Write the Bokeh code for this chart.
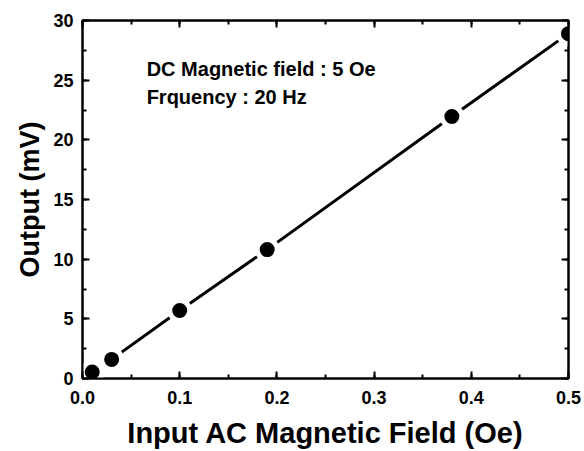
from bokeh.plotting import figure
from bokeh.models import Range1d, LinearAxis, SingleIntervalTicker, NumeralTickFormatter, Label, CustomJSTickFormatter, Title
from bokeh.embed import file_html
from bokeh.resources import INLINE

x_field = [0.002, 0.01, 0.03, 0.1, 0.19, 0.38, 0.5]
y_output = [0.1, 0.55, 1.6, 5.7, 10.8, 21.96, 28.9]
annot_lines = ["DC Magnetic field : 5 Oe", "Frquency : 20 Hz"]
x_title = "Input AC Magnetic Field (Oe)"
y_title = "Output (mV)"

FONT = "Liberation Sans"

p = figure(width=584, height=451, output_backend="svg", toolbar_location=None,
           x_range=Range1d(0, 0.5), y_range=Range1d(0, 30),
           min_border_left=82, min_border_right=16, min_border_top=20, min_border_bottom=72,
           x_axis_location=None, y_axis_location=None)
p.grid.visible = False
p.outline_line_color = "black"
p.outline_line_width = 2
p.background_fill_color = "white"
p.border_fill_color = "white"

def style(ax, labels=True):
    ax.axis_line_width = 2
    ax.axis_line_color = "black"
    ax.major_tick_in = 7
    ax.major_tick_out = 0
    ax.minor_tick_in = 4
    ax.minor_tick_out = 0
    ax.major_tick_line_width = 2
    ax.minor_tick_line_width = 2
    ax.major_tick_line_color = "black"
    ax.minor_tick_line_color = "black"
    ax.major_label_text_font = FONT
    ax.major_label_text_font_style = "bold"
    ax.major_label_text_font_size = "18px"
    ax.major_label_text_color = "black"
    ax.axis_label_text_font = FONT
    ax.axis_label_text_font_style = "bold"
    ax.axis_label_text_font_size = "29px"
    ax.axis_label_text_color = "black"
    if not labels:
        ax.formatter = CustomJSTickFormatter(code="return '';")
        ax.major_label_standoff = 0

xb = LinearAxis(ticker=SingleIntervalTicker(interval=0.1, num_minor_ticks=2),
                formatter=NumeralTickFormatter(format="0.0"), axis_label=x_title)
style(xb)
xb.major_label_standoff = 12
xb.axis_label_standoff = 10
p.add_layout(xb, "below")

yl = LinearAxis(ticker=SingleIntervalTicker(interval=5, num_minor_ticks=2))
style(yl)
yl.major_label_standoff = 9
p.add_layout(yl, "left")

xt = LinearAxis(ticker=SingleIntervalTicker(interval=0.1, num_minor_ticks=2))
style(xt, labels=False)
p.add_layout(xt, "above")

yr = LinearAxis(ticker=SingleIntervalTicker(interval=5, num_minor_ticks=2))
style(yr, labels=False)
p.add_layout(yr, "right")

p.add_layout(Title(text=y_title, align="center", text_font=FONT,
                   text_font_style="bold", text_font_size="27px", text_color="black",
                   standoff=12), "left")

p.line(x_field, y_output, line_color="black", line_width=3)
p.scatter(x_field, y_output, size=20, fill_color="black", line_color="white", line_width=5)

for i, t in enumerate(annot_lines):
    p.add_layout(Label(x=0.066, y=25.9 - 2.35 * i, text=t, text_font=FONT, text_font_style="bold",
                       text_font_size="20px", text_color="black", text_baseline="middle"))

open("out.html", "w").write(file_html(p, INLINE))
